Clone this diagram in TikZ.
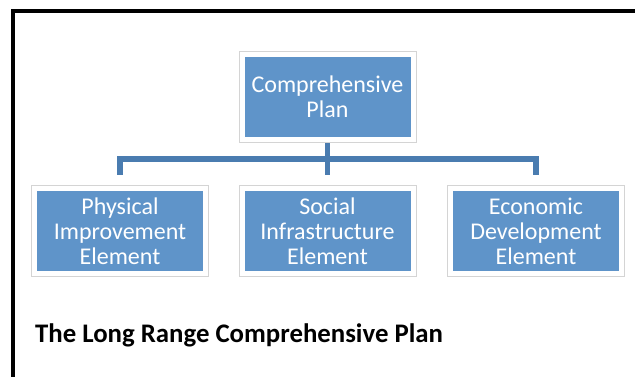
\documentclass[tikz,border=0pt]{standalone}
\usepackage{fontspec}
\setmainfont{Carlito}
\definecolor{boxblue}{HTML}{5F94C9}
\definecolor{linkblue}{HTML}{4A7CB0}
\definecolor{framegray}{HTML}{D4D4D4}
\tikzset{
	tile/.style={fill=boxblue, text=white, align=center,
		minimum width=166pt, minimum height=80pt, inner sep=0pt,
		font=\fontsize{24}{25}\selectfont,
		preaction={draw=framegray, line width=12pt},
		preaction={draw=white, line width=10pt}},
	link/.style={draw=linkblue, line width=5.5pt}
}
\begin{document}
\begin{tikzpicture}[x=1pt,y=-1pt]
	\useasboundingbox (0,0) rectangle (635,377);
	\fill[white] (0,0) rectangle (635,377);
	\draw[line width=4pt] (13,379) -- (13,11) -- (637,11);
	\node[tile] (plan) at (327.5,97) {Comprehensive\\Plan};
	\node[tile] (phys) at (120,231) {Physical\\Improvement\\Element};
	\node[tile] (social) at (327.5,231) {Social\\Infrastructure\\Element};
	\node[tile] (econ) at (536,231) {Economic\\Development\\Element};
	% connectors
	\draw[link] ([yshift=16pt]phys.north) -- ([yshift=32pt]phys.north) -- ([yshift=32pt]econ.north) -- ([yshift=16pt]econ.north);
	\draw[link] ([yshift=-6pt]plan.south) -- ([yshift=16pt]social.north);
	\node[anchor=base west, inner sep=0pt, font=\fontsize{26.8}{30}\selectfont\bfseries] (title) at (35,342) {The Long Range Comprehensive Plan};
\end{tikzpicture}
\end{document}
